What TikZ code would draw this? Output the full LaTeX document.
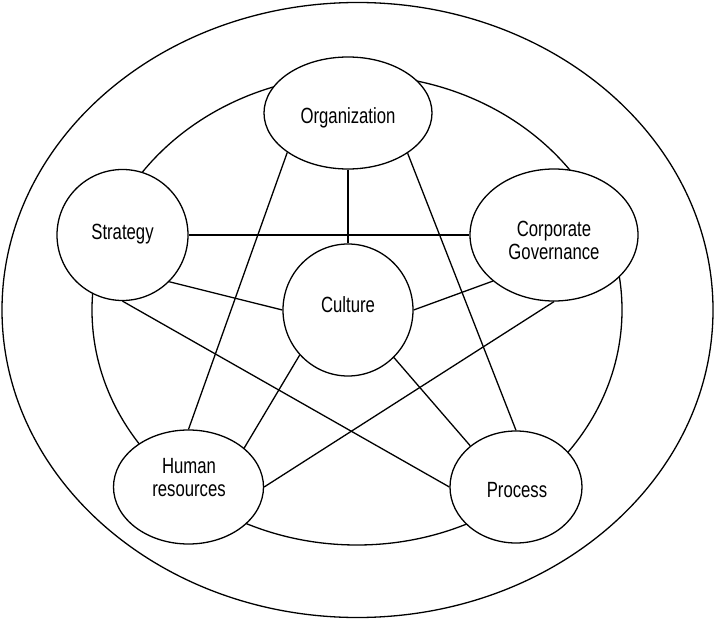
\documentclass[tikz,border=0pt]{standalone}
\usepackage{fontspec}
\setmainfont{Liberation Sans}[FakeStretch=0.76]
\usetikzlibrary{shapes.geometric}
\begin{document}
\begin{tikzpicture}[x=1pt,y=-1pt,
  every path/.style={line width=1.3pt},
  topic/.style={ellipse,draw,fill=white,inner sep=0pt},
  lbl/.style={inner sep=0pt,align=center,font=\fontsize{22}{23.5}\selectfont},
  link/.style={draw,line width=1.3pt}]
\useasboundingbox (0,0) rectangle (715,620);
% outer and inner rings
\draw (357.5,310) ellipse [x radius=355.5, y radius=307.5];
\draw (357,310) ellipse [x radius=265, y radius=235];
% topic shapes
\node[topic,minimum width=168pt,minimum height=112pt] (org) at (348,113) {};
\node[topic,minimum width=131pt,minimum height=131pt] (str) at (122.5,235) {};
\node[topic,minimum width=168pt,minimum height=132pt] (cg) at (554,235) {};
\node[topic,minimum width=130pt,minimum height=132pt] (cul) at (348,310) {};
\node[topic,minimum width=150pt,minimum height=114pt] (hr) at (188.5,487) {};
\node[topic,minimum width=132pt,minimum height=112pt] (pro) at (516,487) {};
% labels
\node[lbl,anchor=base] (torg) at (348,124) {Organization};
\node[lbl,anchor=base] (tstr) at (122.5,239.3) {Strategy};
\node[lbl] (tcg) at (554,240.6) {Corporate\\Governance};
\node[lbl,anchor=base] (tcul) at (348,312.7) {Culture};
\node[lbl] (thr) at (189,477.3) {Human\\resources};
\node[lbl,anchor=base] (tpro) at (517,497.3) {Process};
% connectors
\draw[link] (org.south) -- (cul.north);
\draw[link] (str.east) -- (cg.west);
\draw[link] (str.-45) -- (cul.west);
\draw[link] (cul.east) -- (cg.217);
\draw[link] (cul.223) -- (hr.35);
\draw[link] (cul.-46) -- (pro.138);
\draw[link] (org.213) -- (hr.north);
\draw[link] (org.-34) -- (pro.north);
\draw[link] (str.south) -- (pro.west);
\draw[link] (cg.south) -- (hr.east);
\end{tikzpicture}
\end{document}
